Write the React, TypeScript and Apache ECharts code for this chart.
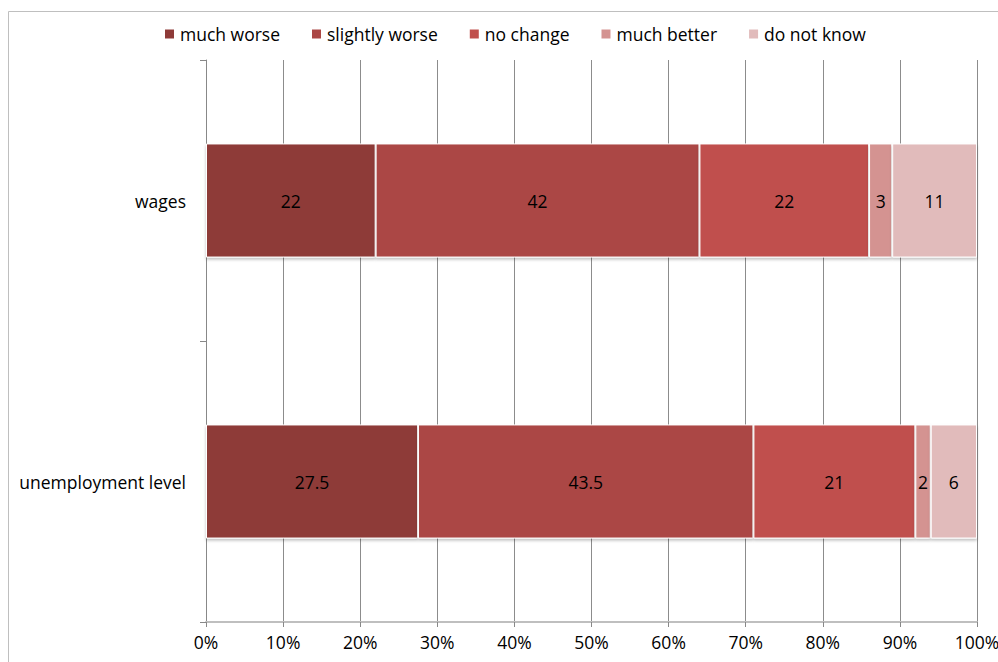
import React, { useEffect, useRef } from "react";
import * as echarts from "echarts";

const categories = ["unemployment level", "wages"];
const seriesNames = ["much worse", "slightly worse", "no change", "much better", "do not know"];
const muchWorse = [27.5, 22];
const slightlyWorse = [43.5, 42];
const noChange = [21, 22];
const muchBetter = [2, 3];
const doNotKnow = [6, 11];
const colors = ["#8E3A38", "#AB4745", "#C0504D", "#D49391", "#E1BBBB"];
const xTicks = [0, 10, 20, 30, 40, 50, 60, 70, 80, 90, 100];

export default function App() {
  const ref = useRef<HTMLDivElement>(null);
  useEffect(() => {
    const chart = echarts.init(ref.current!, null, { renderer: "svg" });
    const values = [muchWorse, slightlyWorse, noChange, muchBetter, doNotKnow];
    const font = "'Open Sans', 'Noto Sans', sans-serif";
    chart.setOption({
      animation: false,
      textStyle: { fontFamily: font },
      graphic: [
        {
          type: "rect",
          shape: { x: 8.5, y: 11.5, width: 1000, height: 700 },
          style: { fill: "none", stroke: "#BFBFBF", lineWidth: 1 },
          silent: true,
        },
      ],
      legend: {
        top: 20,
        left: 158,
        itemWidth: 11,
        itemHeight: 11,
        itemGap: 30,
        icon: "rect",
        textStyle: { fontSize: 17.5, color: "#000", fontFamily: font, padding: [0, 0, 0, 0] },
        data: seriesNames,
      },
      grid: {
        left: 206,
        right: 21,
        top: 60,
        bottom: 40,
        containLabel: false,
        outerBoundsMode: "none",
      },
      xAxis: {
        type: "value",
        min: 0,
        max: 100,
        interval: 10,
        axisLine: { show: true, lineStyle: { color: "#BFBFBF", width: 2 } },
        axisTick: { show: true, length: 5, lineStyle: { color: "#888" } },
        splitLine: { show: true, lineStyle: { color: "#8C8C8C", width: 1 } },
        axisLabel: {
          formatter: (v: number) => (xTicks.includes(v) ? v + "%" : ""),
          color: "#000",
          fontSize: 17.5,
          margin: 11,
          fontFamily: font,
        },
      },
      yAxis: {
        type: "category",
        data: categories,
        axisLine: { show: true, lineStyle: { color: "#888", width: 1 } },
        axisTick: { show: true, length: 6, alignWithLabel: false, lineStyle: { color: "#888" } },
        axisLabel: { color: "#000", fontSize: 17.5, margin: 20, fontFamily: font },
        splitLine: { show: false },
      },
      series: seriesNames.map((name, i) => ({
        name,
        type: "bar",
        stack: "total",
        barWidth: "40.6%",
        data: values[i],
        itemStyle: {
          color: colors[i],
          borderColor: "#FFFFFF",
          borderWidth: 1,
          shadowColor: "rgba(0,0,0,0.25)",
          shadowBlur: 3,
          shadowOffsetY: 2,
        },
        label: {
          show: true,
          position: "inside",
          color: "#000",
          fontSize: 17.5,
          fontFamily: font,
          formatter: (p: any) => String(p.value),
        },
      })),
    });
    return () => chart.dispose();
  }, []);
  return (
    <div
      ref={ref}
      style={{ position: "fixed", left: 0, top: 0, width: 998, height: 662, background: "#fff" }}
    />
  );
}
